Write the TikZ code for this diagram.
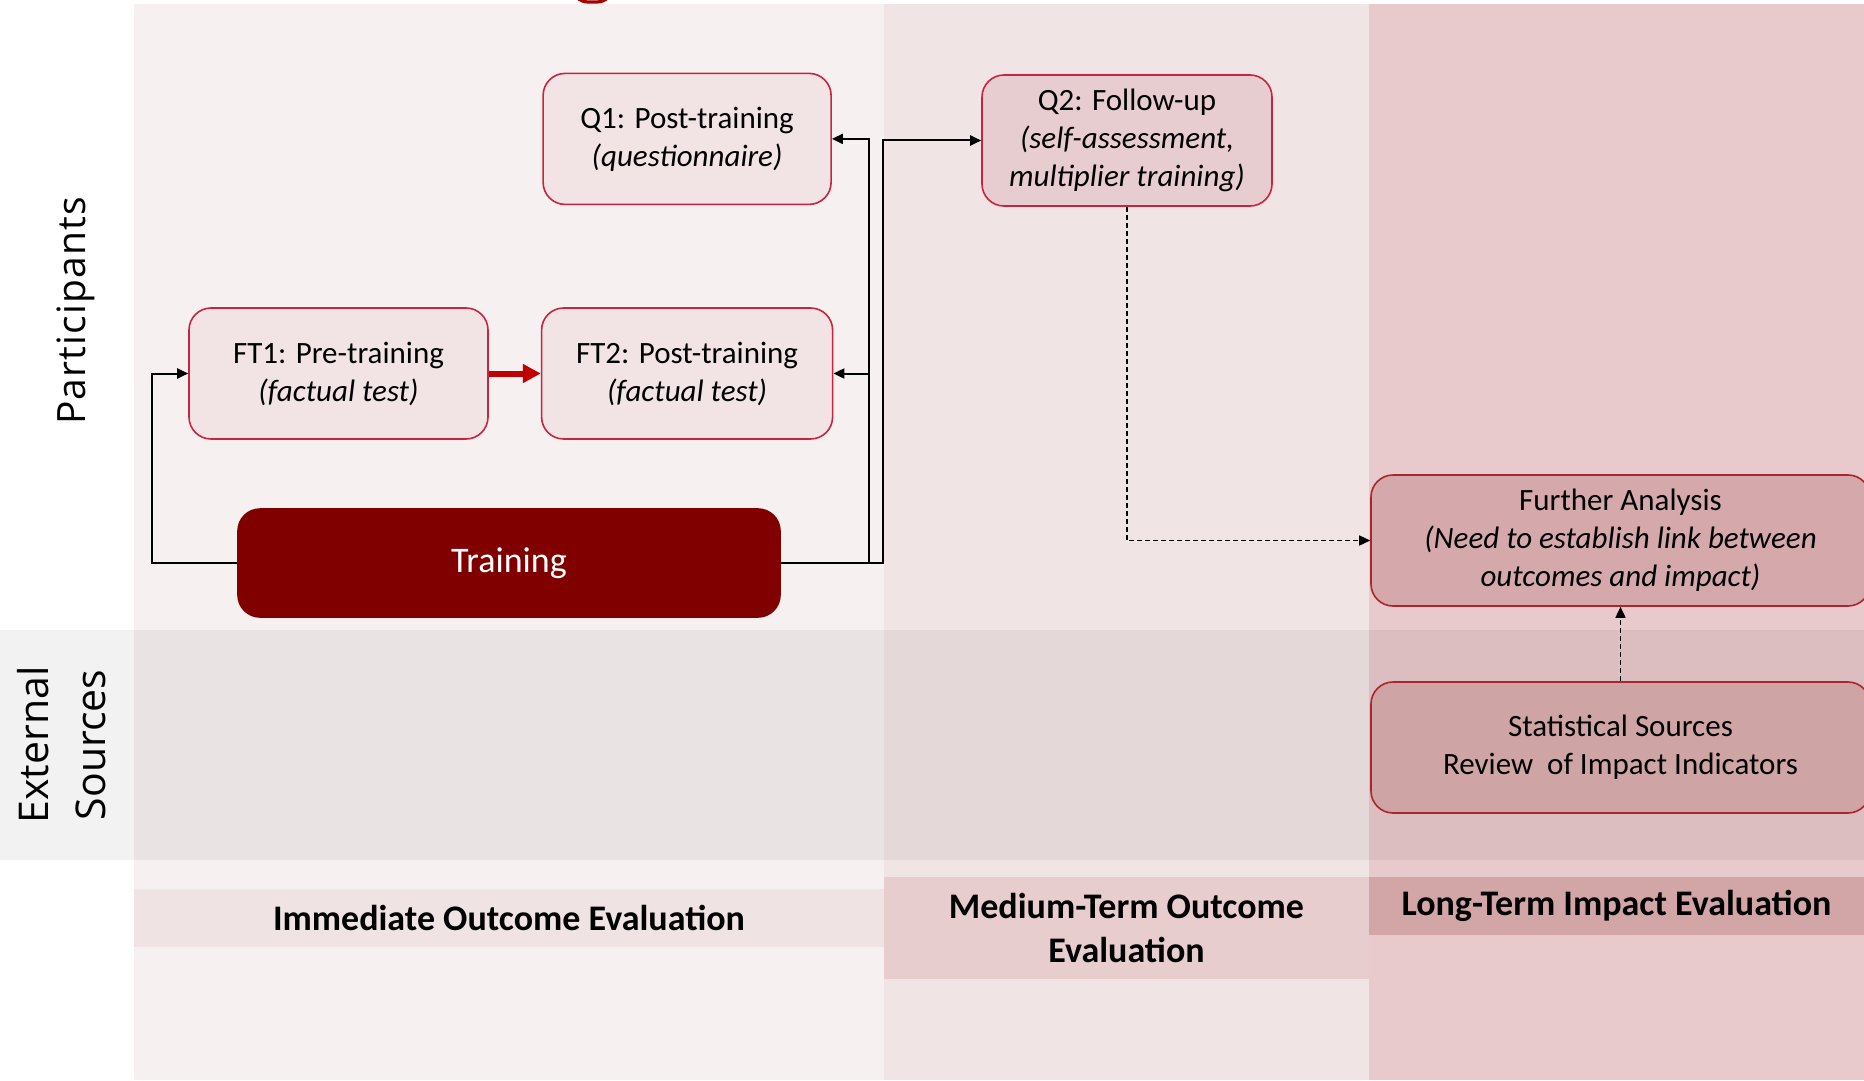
\documentclass[tikz,border=0pt]{standalone}
\usepackage{fontspec}
\setmainfont{Carlito}
\newfontfamily\lanefont{Open Sans}
\usepackage{tikz}
\usetikzlibrary{arrows.meta,positioning}
\definecolor{colImm}{HTML}{F6F0F0}
\definecolor{colMed}{HTML}{F1E4E5}
\definecolor{colLong}{HTML}{E8C9CC}
\definecolor{bandImm}{HTML}{F0E3E4}
\definecolor{bandMed}{HTML}{E8CDCF}
\definecolor{bandLong}{HTML}{D2A5A7}
\definecolor{boxPale}{HTML}{F2E4E5}
\definecolor{boxMed}{HTML}{E8CDD0}
\definecolor{boxDeep}{HTML}{D5A9AB}
\definecolor{boxStat}{HTML}{CFA4A5}
\definecolor{edgeRed}{HTML}{C9243F}
\definecolor{edgeDeep}{HTML}{A8262C}
\definecolor{trainRed}{HTML}{800000}
\definecolor{arrowRed}{HTML}{C00000}
\def\px{0.5pt}

\begin{document}
\begin{tikzpicture}[
    x=0.5pt, y=-0.5pt,
    stage/.style={draw=edgeRed, line width=0.8pt, rounded corners=11pt, fill=boxPale,
      align=center, inner sep=0pt, font=\fontsize{15.5}{19}\selectfont},
    link/.style={draw=black, line width=1pt, -{Triangle[length=5.5pt,width=5pt]}},
    hint/.style={link, line width=0.8pt, dash pattern=on 2.5pt off 1.5pt},
    phase/.style={align=center, font=\fontsize{18}{22}\selectfont\bfseries},
    lane/.style={rotate=90, align=center}
  ]
  \useasboundingbox (0,0) rectangle (1864,1081);
  \fill[colImm] (134,4) rectangle (884,1080);
  \fill[colMed] (884,4) rectangle (1369,1080);
  \fill[colLong] (1369,4) rectangle (1864,1080);
  \fill[black, opacity=0.05] (0,630) rectangle (1864,860);
  \fill[bandImm] (134,889) rectangle (884,947);
  \fill[bandMed] (884,877) rectangle (1369,979);
  \fill[bandLong] (1369,877) rectangle (1864,935);
  \draw[arrowRed!85!black, line width=1.6pt, rounded corners=8pt] (572,-30) rectangle (613,2);

  \node[lane, font=\lanefont\addfontfeatures{LetterSpace=3}\fontsize{19.5}{22}\selectfont] (lanePart) at (76,311) {Participants};
  \node[lane, font=\lanefont\fontsize{20.5}{28.5}\selectfont] (laneExt) at (62,745) {External\\Sources};

  \node[phase] (immLabel) at (509,918) {Immediate Outcome Evaluation};
  \node[phase] (medLabel) at (1126.5,928) {Medium-Term Outcome\\Evaluation};
  \node[phase] (longLabel) at (1616.5,906) {Long-Term Impact Evaluation};

  \node[stage, minimum width=299*\px, minimum height=131*\px] (ft1) at (338.5,373.5) {FT1: Pre-training\\\textit{(factual test)}};
  \node[stage, minimum width=291*\px, minimum height=131*\px, right=26pt of ft1] (ft2) {FT2: Post-training\\\textit{(factual test)}};
  \node[stage, minimum width=288*\px, minimum height=131*\px, above=51pt of ft2] (q1) {Q1: Post-training\\\textit{(questionnaire)}};
  \node[stage, fill=trainRed, draw=trainRed, text=white, minimum width=542*\px, minimum height=108*\px,
    font=\fontsize{18}{22}\selectfont] (training) at (509,563) {Training};
  \node[stage, fill=boxMed, minimum width=290*\px, minimum height=131*\px] (q2) at (1127,140.5) {Q2: Follow-up\\\textit{(self-assessment,}\\\textit{multiplier training)}};
  \node[stage, fill=boxDeep, draw=edgeDeep, minimum width=499*\px, minimum height=131*\px] (further) at (1620.5,540.5) {Further Analysis\\\textit{(Need to establish link between}\\\textit{outcomes and impact)}};
  \node[stage, fill=boxStat, draw=edgeDeep, minimum width=499*\px, minimum height=131*\px] (stats) at (1620.5,747.5) {Statistical Sources\\Review~~of Impact Indicators};

  \draw[arrowRed, line width=3pt, -{Triangle[length=9pt,width=9pt]}] (ft1.east) -- (ft2.west);
  \draw[link] (training.west) -- ++(-85,0) |- (ft1.west);
  \draw[link] (training.east) -- ++(88,0) coordinate (busA) |- (q1.east);
  \draw[link] (busA |- ft2.east) -- (ft2.east);
  \draw[link] (training.east) -- ++(102,0) |- (q2.west);
  \draw[hint] (q2.south) |- (further.west);
  \draw[hint] (stats.north) -- (further.south);
\end{tikzpicture}
\end{document}
